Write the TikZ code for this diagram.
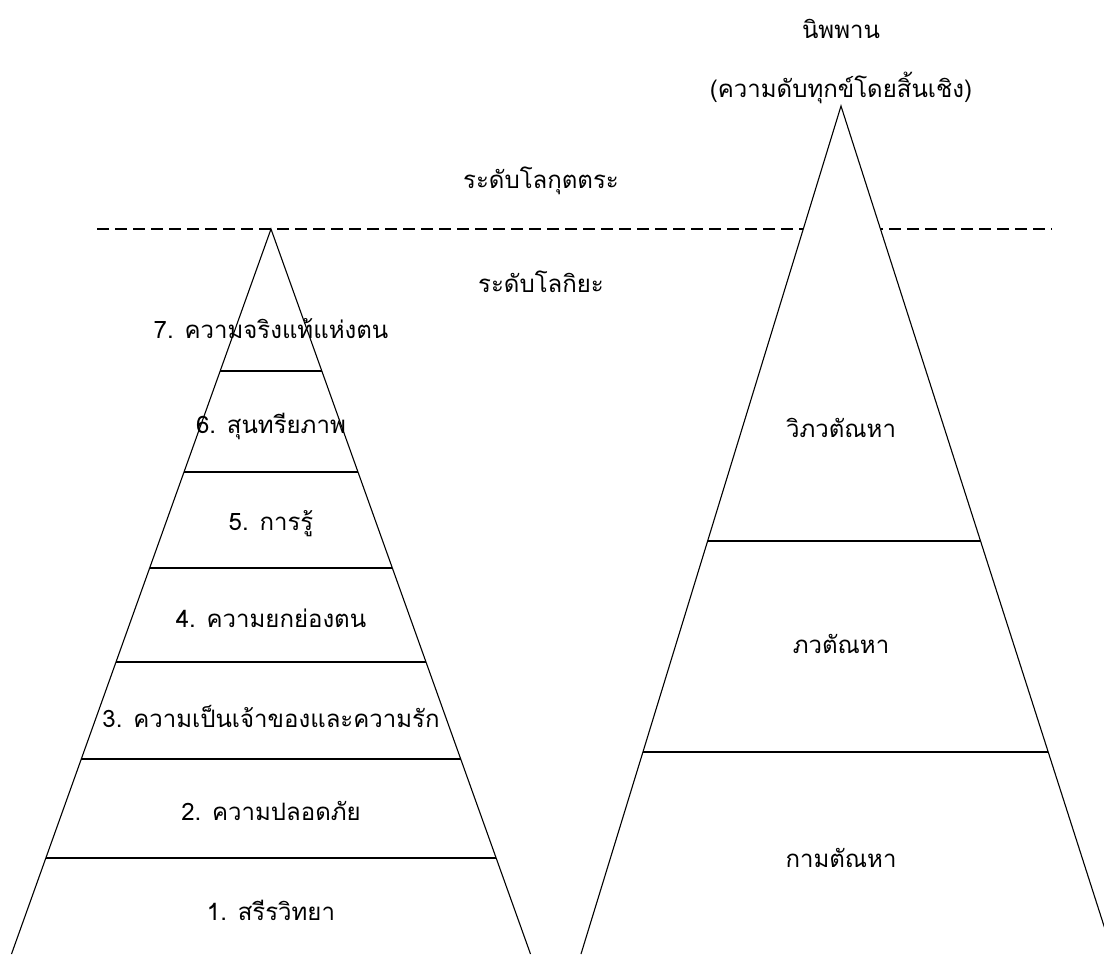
\documentclass[tikz,border=0pt]{standalone}
\usepackage{fontspec}
\newfontfamily\thaifont[Script=Thai]{Loma}
\begin{document}
\begin{tikzpicture}[x=1pt,y=-1pt,
  lbl/.style={font=\thaifont\fontsize{24}{28}\selectfont, anchor=base, inner sep=0pt},
  side/.style={line width=1.1pt},
  tier/.style={line width=1.8pt},
  dash line/.style={line width=1.8pt, dash pattern=on 12pt off 6pt}]
\useasboundingbox (0,0) rectangle (1104,954);
\clip (0,0) rectangle (1104,954);
% dashed level line
\coordinate (d1) at (97,229);
\coordinate (d2) at (1052,229);
\draw[dash line] (d1) -- (d2);
% apexes and base corners
\coordinate (LA) at (271,229);
\coordinate (LL) at (11.5,954);
\coordinate (LR) at (530.5,954);
\coordinate (RA) at (841,106);
\coordinate (RL) at (581,954);
\coordinate (RR) at (1113,954);
\fill[white] (RL) -- (RA) -- (RR) -- cycle;
\draw[side] (LL) -- (LA) -- (LR);
\draw[side] (RL) -- (RA) -- (RR);
% left tiers
\draw[tier] (220.2,371) -- (321.8,371);
\draw[tier] (184.0,472) -- (358.0,472);
\draw[tier] (149.7,568) -- (392.3,568);
\draw[tier] (116.0,662) -- (426.0,662);
\draw[tier] (81.3,759) -- (460.7,759);
\draw[tier] (45.9,858) -- (496.1,858);
% right tiers
\draw[tier] (707.5,541) -- (980.7,541);
\draw[tier] (642.9,752) -- (1048.3,752);
% texts
\node[lbl] (nib) at (841,38) {นิพพาน};
\node[lbl] (nibx) at (841,97) {(ความดับทุกข์โดยสิ้นเชิง)};
\node[lbl] (lok1) at (541,188) {ระดับโลกุตตระ};
\node[lbl] (lok2) at (541,292) {ระดับโลกิยะ};
\node[lbl] (m7) at (271,338) {7. ความจริงแท้แห่งตน};
\node[lbl] (m6) at (271,433) {6. สุนทรียภาพ};
\node[lbl] (m5) at (271,530) {5. การรู้};
\node[lbl] (m4) at (271,627) {4. ความยกย่องตน};
\node[lbl] (m3) at (271,727) {3. ความเป็นเจ้าของและความรัก};
\node[lbl] (m2) at (271,820) {2. ความปลอดภัย};
\node[lbl] (m1) at (271,920) {1. สรีรวิทยา};
\node[lbl] (t3) at (841,437) {วิภวตัณหา};
\node[lbl] (t2) at (841,653) {ภวตัณหา};
\node[lbl] (t1) at (841,867) {กามตัณหา};
\end{tikzpicture}
\end{document}
